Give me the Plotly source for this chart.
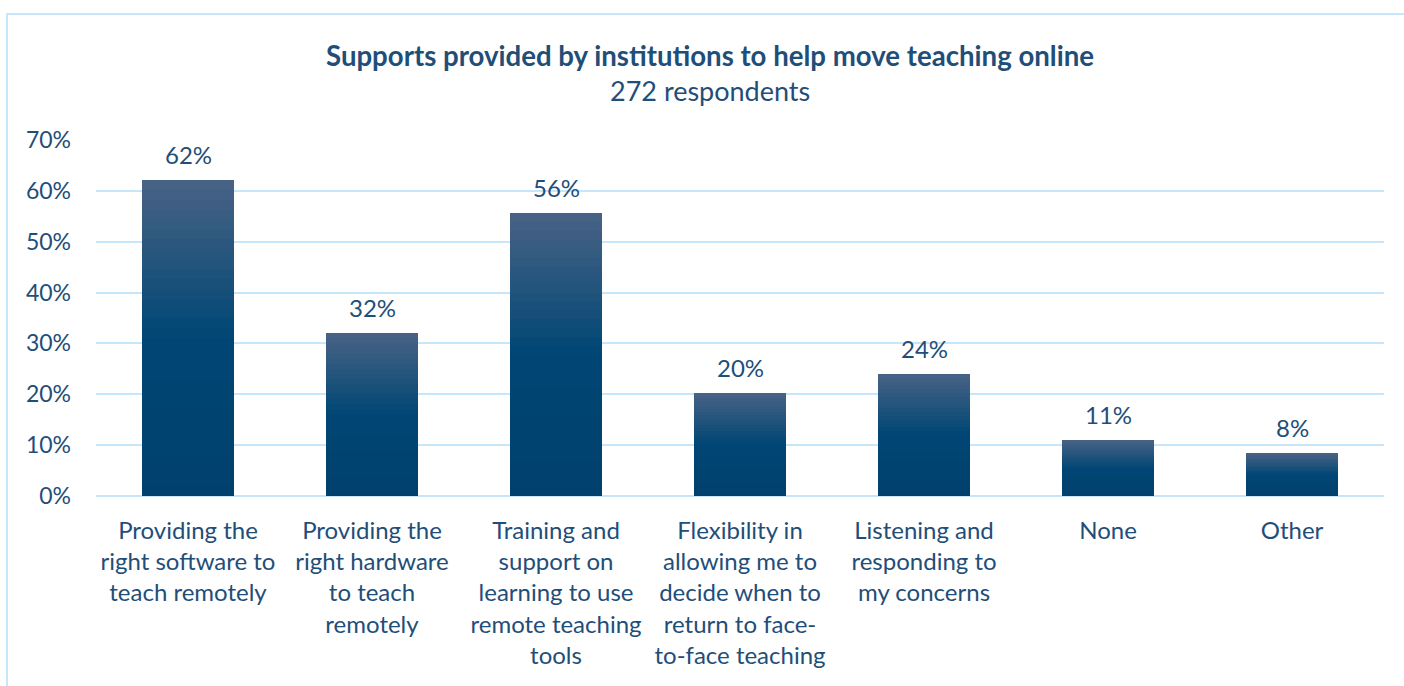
import plotly.graph_objects as go

categories = [
    "Providing the<br>right software to<br>teach remotely",
    "Providing the<br>right hardware<br>to teach<br>remotely",
    "Training and<br>support on<br>learning to use<br>remote teaching<br>tools",
    "Flexibility in<br>allowing me to<br>decide when to<br>return to face-<br>to-face teaching",
    "Listening and<br>responding to<br>my concerns",
    "None",
    "Other",
]
values = [0.621, 0.320, 0.556, 0.203, 0.240, 0.110, 0.084]
y_ticks = [0, 0.1, 0.2, 0.3, 0.4, 0.5, 0.6, 0.7]

TEXT = "#1F4E79"
GRID = "#C6E7FB"
FONT = "Lato"

# vertical gradient per bar (top lighter -> bottom dark)
top_c = (72, 99, 133)
mid_c = (0, 70, 116)
bot_c = (0, 64, 110)


def grad(f):
    if f >= 0.5:
        t = (f - 0.5) / 0.5
        a, b = mid_c, top_c
    else:
        t = f / 0.5
        a, b = bot_c, mid_c
    c = [round(a[i] + (b[i] - a[i]) * t) for i in range(3)]
    return "rgb(%d,%d,%d)" % tuple(c)


# plot-area layout in page pixels
PL, PR, PT, PB = 96, 1384, 140, 496
PW, PH = PR - PL, PB - PT

N = 32
fig = go.Figure()
for k in range(N):
    fig.add_trace(go.Bar(
        x=categories,
        y=[v / N for v in values],
        marker=dict(color=grad((k + 0.5) / N), line=dict(width=0)),
        width=0.505,
        hoverinfo="skip",
        showlegend=False,
    ))

for c, v in zip(categories, values):
    fig.add_annotation(
        x=c, y=v, text="{:.0%}".format(v), showarrow=False,
        yanchor="bottom", yshift=9,
        font=dict(family=FONT, size=24, color=TEXT),
    )

fig.add_annotation(
    xref="paper", yref="paper", x=(710 - PL) / PW, y=(PB - 55) / PH,
    text="<b>Supports provided by institutions to help move teaching online</b>",
    showarrow=False, xanchor="center", yanchor="middle",
    font=dict(family=FONT, size=27.6, color=TEXT),
)
fig.add_annotation(
    xref="paper", yref="paper", x=(710 - PL) / PW, y=(PB - 90) / PH,
    text="272 respondents",
    showarrow=False, xanchor="center", yanchor="middle",
    font=dict(family=FONT, size=27, color=TEXT),
)

# outer light-blue frame
fig.add_shape(
    type="rect", xref="paper", yref="paper",
    x0=(7 - PL) / PW, x1=(1412 - PL) / PW,
    y0=(PB - 700) / PH, y1=(PB - 14) / PH,
    line=dict(color=GRID, width=2), fillcolor="rgba(0,0,0,0)", layer="below",
)

fig.update_layout(
    width=1404, height=686,
    barmode="stack", bargap=0.0,
    plot_bgcolor="white", paper_bgcolor="white",
    margin=dict(l=PL, r=1404 - PR, t=PT, b=686 - PB),
    font=dict(family=FONT, size=24, color=TEXT),
    showlegend=False,
)
fig.update_xaxes(
    showgrid=False, showline=False, zeroline=False,
    tickfont=dict(family=FONT, size=24, color=TEXT),
    ticks="", ticklabelstandoff=18,
)
fig.update_yaxes(
    range=[0, 0.7], tickvals=y_ticks, tickformat=".0%",
    showgrid=True, gridcolor=GRID, gridwidth=2,
    zeroline=True, zerolinecolor=GRID, zerolinewidth=2,
    showline=False, ticks="", ticklabelstandoff=24,
    tickfont=dict(family=FONT, size=23, color=TEXT),
)

fig.write_html(
    "out.html",
    config={"displayModeBar": False},
    post_script="document.body.style.margin='0px';document.body.style.overflow='hidden';",
)
